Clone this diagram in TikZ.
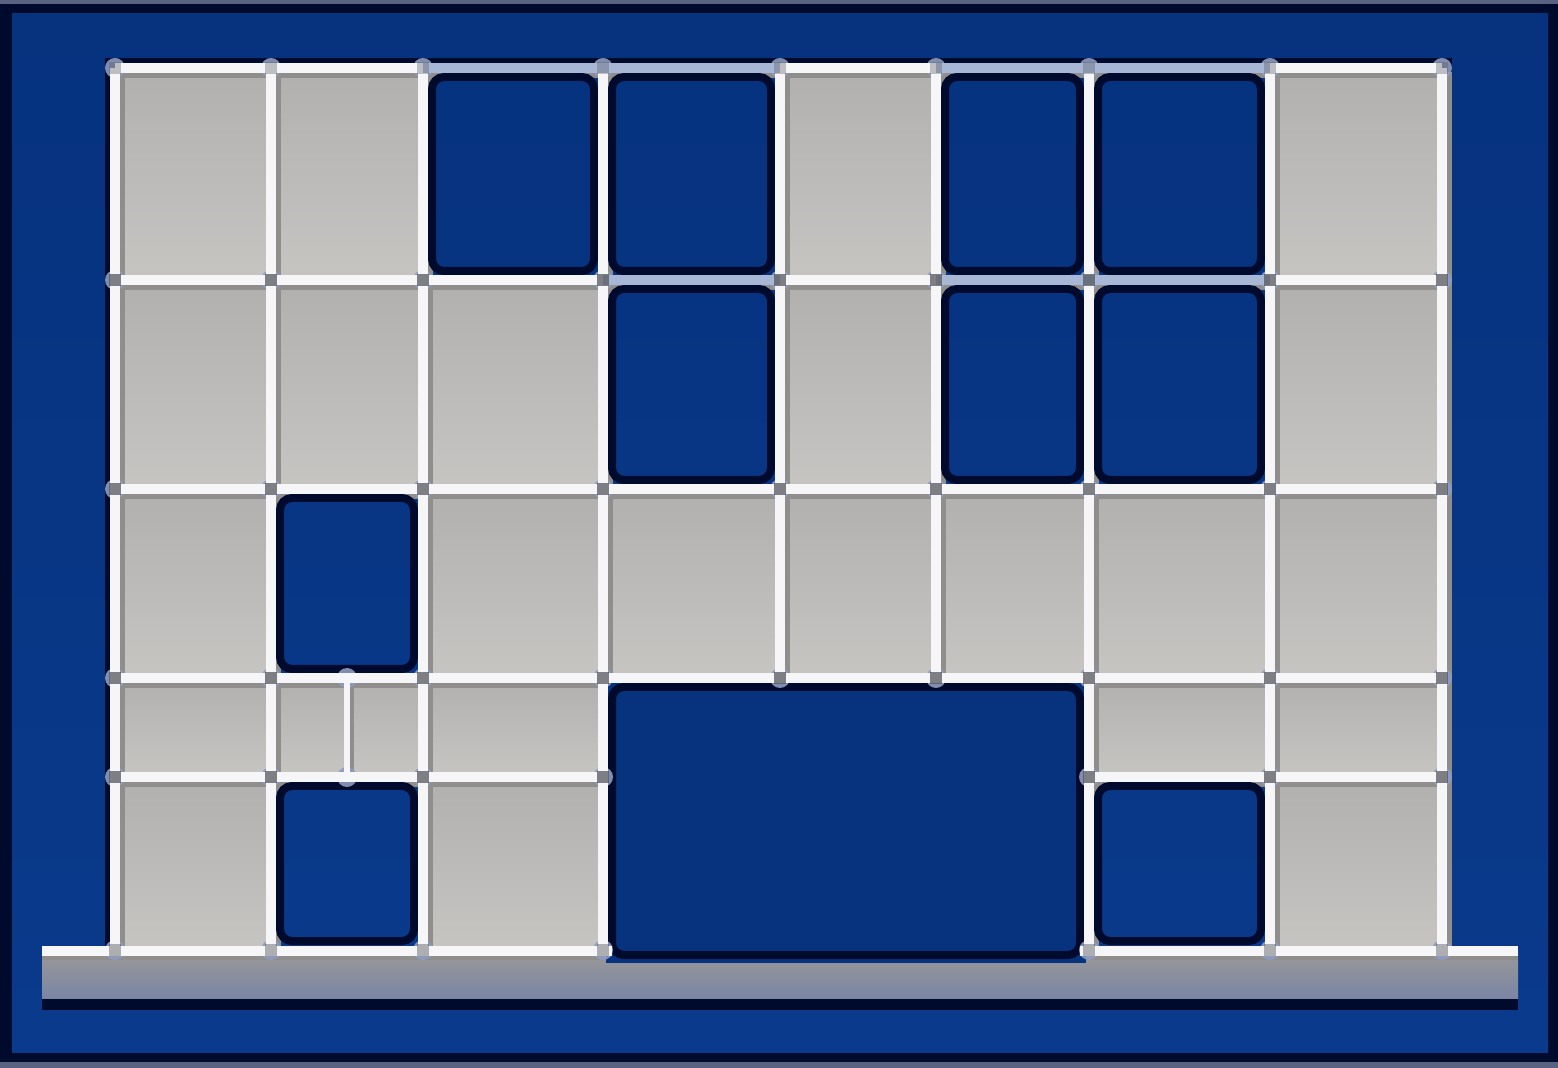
\documentclass[tikz,border=0pt]{standalone}
\usepackage{tikz}
\definecolor{bgblue}{HTML}{06327E}
\definecolor{bgblue2}{HTML}{0A3A8C}
\definecolor{navy}{HTML}{000A2C}
\definecolor{framegray}{HTML}{5A6282}
\definecolor{celltop}{HTML}{B2B0AF}
\definecolor{cellbot}{HTML}{C6C5C2}
\definecolor{linew}{HTML}{F6F6F8}
\definecolor{lineblue}{HTML}{A9B7D6}
\definecolor{shadowg}{HTML}{8F8E8D}
\definecolor{nodeblue}{HTML}{8E9CC0}
\definecolor{jointdark}{HTML}{55585E}
\definecolor{basetop}{HTML}{9C9A98}
\definecolor{basebot}{HTML}{7A85A4}
\tikzset{
  grayc/.style={top color=celltop, bottom color=cellbot},
  bluec/.style={draw=navy, line width=4pt, rounded corners=6},
  wline/.style={draw=linew, line width=5pt},
  bline/.style={draw=lineblue, line width=5pt},
  shline/.style={draw=shadowg, line width=4pt},
  joint/.style={fill=nodeblue, opacity=0.9},
  jsq/.style={fill=jointdark, opacity=0.75}
}
\def\hsegs{115/68/1442/68, 115/280/1442/280, 115/489/1442/489, 115/678/1442/678, 115/777/603/777, 1089/777/1442/777}
\def\vsegs{115/68/115/950, 271/68/271/950, 423/68/423/950, 603/68/603/950, 780/68/780/678, 936/68/936/678, 1089/68/1089/950, 1270/68/1270/950, 1442/68/1442/950}
\begin{document}
\begin{tikzpicture}[x=0.5pt,y=-0.5pt]
\useasboundingbox (0,0) rectangle (1558,1068);
% frame and background
\fill[navy] (0,0) rectangle (1558,1068);
\fill[framegray] (0,0) rectangle (1558,4);
\fill[framegray] (0,1062) rectangle (1558,1068);
\fill[top color=bgblue, bottom color=bgblue2] (12,14) rectangle (1548,1052);
% dark outline around frame (top and sides)
\draw[navy, line width=10pt] (115,950) -- (115,68) -- (1442,68) -- (1442,950);
% base bar
\fill[navy] (42,990) rectangle (1518,1010);
\fill[top color=basetop, bottom color=basebot] (42,950) rectangle (1518,998);
% gray cells
\foreach \a/\b/\c/\d in {115/68/271/280, 271/68/423/280, 780/68/936/280, 1270/68/1442/280,
  115/280/271/489, 271/280/423/489, 423/280/603/489, 780/280/936/489, 1270/280/1442/489,
  115/489/271/678, 423/489/1442/678,
  115/678/603/777, 1089/678/1442/777,
  115/777/271/950, 423/777/603/950, 1270/777/1442/950}
  \fill[grayc] (\a,\b) rectangle (\c,\d);
% line shadows
\foreach \a/\b/\c/\d in \hsegs \draw[shline] (\a+4,\b+6) -- (\c+4,\d+6);
\foreach \a/\b/\c/\d in \vsegs \draw[shline] (\a+6,\b+4) -- (\c+6,\d+4);
\draw[shline] (42,956) -- (612,956);
\draw[shline] (1080,956) -- (1518,956);
\draw[shadowg, line width=2.5pt] (351,680) -- (351,777);
% big blue opening
\fill[bgblue] (606,682) rectangle (1086,963);
% blue cells (openings)
\foreach \a/\b/\c/\d in {423/68/603/280, 603/68/780/280, 936/68/1089/280, 1089/68/1270/280,
  603/280/780/489, 936/280/1089/489, 1089/280/1270/489,
  271/489/423/678, 603/678/1089/964, 271/777/423/950, 1089/777/1270/950}
  \draw[bluec] (\a+9,\b+9) rectangle (\c-9,\d-9);
% joint blobs
\foreach \y in {68,280,489,678}
  \foreach \x in {115,271,423,603,780,936,1089,1270,1442}
    \fill[joint] (\x,\y) circle (10);
\foreach \x in {347,115,271,423,603,1089,1270,1442} \fill[joint] (\x,777) circle (10);
\fill[joint] (347,678) circle (10);
\foreach \x in {115,271,423,603,1089,1270,1442} \fill[joint] (\x,950) circle (10);
% white members
\foreach \a/\b/\c/\d in \hsegs \draw[wline] (\a,\b) -- (\c,\d);
\foreach \a/\b/\c/\d in \vsegs \draw[wline] (\a,\b) -- (\c,\d);
\draw[wline] (42,951) -- (612,951);
\draw[wline] (1080,951) -- (1518,951);
\draw[linew, line width=3pt] (347,678) -- (347,777);
\foreach \a/\b/\c/\d in {423/68/780/68, 936/68/1270/68, 603/280/780/280, 936/280/1270/280}
  \draw[bline] (\a,\b) -- (\c,\d);
% joint centers
\foreach \y in {280,489,678}
  \foreach \x in {115,271,423,603,780,936,1089,1270,1442}
    \fill[jsq] (\x-6,\y-6) rectangle (\x+6,\y+6);
\foreach \x in {115,271,423,603,1089,1270,1442} \fill[jsq] (\x-6,771) rectangle (\x+6,783);
\foreach \x in {115,271,423,603,1089,1270,1442} \fill[jsq, opacity=0.45] (\x-6,944) rectangle (\x+6,956);
\foreach \x in {115,271,423,603,780,936,1089,1270,1442} \fill[jsq, opacity=0.35] (\x-6,62) rectangle (\x+6,74);
\end{tikzpicture}
\end{document}
